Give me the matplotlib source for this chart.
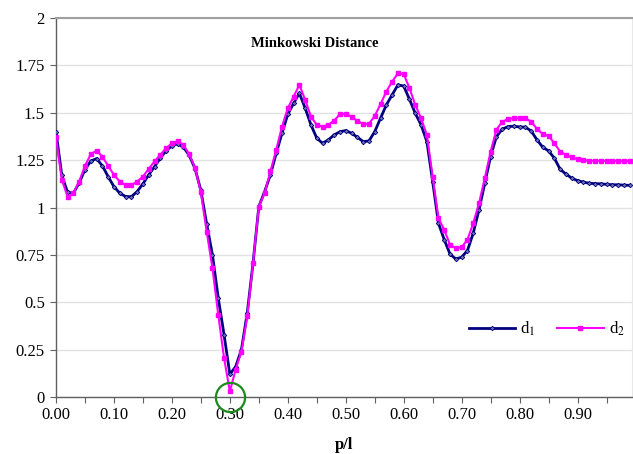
import matplotlib
matplotlib.use("Agg")
import matplotlib.pyplot as plt
import numpy as np

# ---- data ----
p_over_l = [round(0.01 * i, 2) for i in range(100)]

d1 = [1.40, 1.17, 1.08, 1.075, 1.13, 1.20, 1.245, 1.258, 1.22, 1.163,
      1.11, 1.076, 1.058, 1.057, 1.084, 1.125, 1.172, 1.216, 1.26, 1.30,
      1.325, 1.336, 1.318, 1.275, 1.205, 1.09, 0.914, 0.75, 0.522, 0.329,
      0.12, 0.16, 0.25, 0.443, 0.706, 1.005, 1.084, 1.172, 1.286, 1.392,
      1.492, 1.55, 1.603, 1.524, 1.436, 1.366, 1.339, 1.357, 1.383, 1.40,
      1.406, 1.392, 1.371, 1.348, 1.351, 1.40, 1.471, 1.541, 1.594, 1.647,
      1.641, 1.571, 1.497, 1.436, 1.348, 1.137, 0.917, 0.83, 0.754, 0.728,
      0.738, 0.773, 0.865, 0.988, 1.128, 1.269, 1.374, 1.413, 1.427, 1.429,
      1.425, 1.424, 1.404, 1.357, 1.318, 1.299, 1.26, 1.202, 1.176, 1.155,
      1.142, 1.134, 1.128, 1.126, 1.125, 1.122, 1.12, 1.12, 1.118, 1.117]

d2 = [1.371, 1.146, 1.058, 1.076, 1.137, 1.22, 1.281, 1.30, 1.269, 1.22,
      1.172, 1.137, 1.118, 1.118, 1.137, 1.163, 1.204, 1.243, 1.278, 1.313,
      1.339, 1.351, 1.33, 1.28, 1.21, 1.08, 0.873, 0.68, 0.434, 0.206,
      0.03, 0.144, 0.24, 0.425, 0.706, 1.005, 1.076, 1.19, 1.304, 1.427,
      1.524, 1.585, 1.647, 1.568, 1.48, 1.436, 1.427, 1.436, 1.459, 1.492,
      1.494, 1.48, 1.457, 1.441, 1.441, 1.483, 1.545, 1.612, 1.664, 1.708,
      1.705, 1.63, 1.541, 1.471, 1.383, 1.163, 0.944, 0.882, 0.803, 0.786,
      0.791, 0.83, 0.917, 1.023, 1.155, 1.295, 1.41, 1.452, 1.467, 1.471,
      1.471, 1.471, 1.453, 1.415, 1.387, 1.378, 1.339, 1.295, 1.278, 1.264,
      1.255, 1.25, 1.246, 1.246, 1.246, 1.246, 1.246, 1.246, 1.245, 1.244]

y_ticks = [0, 0.25, 0.5, 0.75, 1, 1.25, 1.5, 1.75, 2]
y_tick_labels = ["0", "0.25", "0.5", "0.75", "1", "1.25", "1.5", "1.75", "2"]
x_ticks = [round(0.05 * i, 2) for i in range(20)]
x_tick_labels = [f"{v:.2f}" if i % 2 == 0 else "" for i, v in enumerate(x_ticks)]
marked_point = (0.30, 0.0)

# ---- styling ----
plt.rcParams['font.family'] = ['Liberation Serif', 'DejaVu Serif']
plt.rcParams['mathtext.fontset'] = 'stix'

fig = plt.figure(figsize=(6.33, 4.54), dpi=100)
ax = fig.add_axes([56 / 633, 1 - 397 / 454, (632 - 56) / 633, (397 - 18) / 454])

ax.plot(p_over_l, d1, color='#000080', lw=2.0, marker='D', ms=2.3,
        mfc='#7070b0', mec='#000080', mew=0.6, label='d$_1$', zorder=3)
ax.plot(p_over_l, d2, color='#ff00ff', lw=1.5, marker='s', ms=3.4,
        mfc='#ff00ff', mec='#ff00ff', label='d$_2$', zorder=4)

ax.plot([marked_point[0]], [marked_point[1]], 'o', ms=21, mfc='none',
        mec='#1a8a1a', mew=1.6, clip_on=False, zorder=6)

ax.set_xlim(0, 0.994)
ax.set_ylim(0, 2)
ax.set_yticks(y_ticks)
ax.set_yticklabels(y_tick_labels)
ax.set_xticks(x_ticks)
ax.set_xticklabels(x_tick_labels)
ax.tick_params(axis='both', labelsize=12, direction='out', length=4,
               color='#606060', width=0.8)
ax.tick_params(axis='x', pad=3)
ax.tick_params(axis='y', pad=4)

ax.grid(axis='y', color='#e2e2e2', lw=1.0)
ax.set_axisbelow(True)
for s in ['left', 'bottom']:
    ax.spines[s].set_color('#606060')
    ax.spines[s].set_linewidth(1.0)
ax.spines['top'].set_color('#a0a0a0')
ax.spines['top'].set_linewidth(1.5)
ax.spines['right'].set_color('#e8e8e8')

ax.text(0.45, 0.934, 'Minkowski Distance', transform=ax.transAxes,
        ha='center', va='center', fontsize=10.5, fontweight='bold')
ax.set_xlabel('p/l', fontsize=12, fontweight='bold', labelpad=10)

ax.legend(loc='center', bbox_to_anchor=(0.852, 0.18), ncol=2, frameon=False,
          fontsize=12, handlelength=2.8, columnspacing=1.3, handletextpad=0.3,
          borderpad=0.2)

fig.savefig('out.png', dpi=100)
